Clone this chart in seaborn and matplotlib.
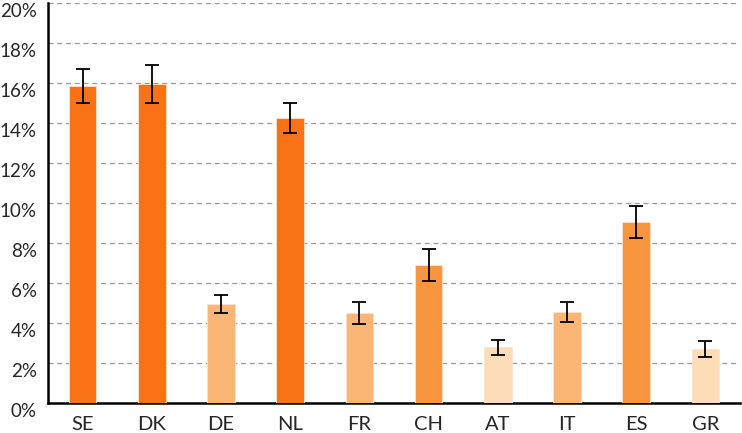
import pandas as pd
import matplotlib.pyplot as plt
import matplotlib.ticker as mticker
import matplotlib.transforms as mtransforms
import seaborn as sns

# Datos (porcentaje y semiancho del intervalo)
paises = ['SE', 'DK', 'DE', 'NL', 'FR', 'CH', 'AT', 'IT', 'ES', 'GR']
valores = [15.85, 15.95, 4.95, 14.25, 4.5, 6.9, 2.78, 4.55, 9.05, 2.7]
errores = [0.83, 0.93, 0.46, 0.75, 0.54, 0.8, 0.38, 0.48, 0.8, 0.38]
grupo = ['alto', 'alto', 'bajo', 'alto', 'bajo', 'medio', 'muy_bajo', 'bajo', 'medio', 'muy_bajo']

colores = {'alto': '#F97316', 'medio': '#F8953F', 'bajo': '#FBB574', 'muy_bajo': '#FDDCB8'}

df = pd.DataFrame({'pais': paises, 'valor': valores, 'error': errores, 'grupo': grupo})

sns.set_style("white")
plt.rcParams['font.family'] = ['Lato', 'DejaVu Sans']

fig = plt.figure(figsize=(7.42, 4.33), dpi=100)
ax = fig.add_axes([48 / 742, 1 - 403 / 433, 692 / 742, 400 / 433])

sns.barplot(data=df, x='pais', y='valor', hue='grupo', palette=colores,
            dodge=False, legend=False, width=0.4, errorbar=None, saturation=1,
            edgecolor='#FDE3CC', linewidth=0.6, ax=ax, zorder=3)

# Barras de error (intervalos)
ax.errorbar(x=range(len(paises)), y=df['valor'], yerr=df['error'], fmt='none',
            ecolor='black', elinewidth=1.3, capsize=5, capthick=1.3, zorder=4)

# Eje Y
ax.set_ylim(0, 20)
ax.set_yticks(range(0, 21, 2))
ax.yaxis.set_major_formatter(mticker.FuncFormatter(lambda v, p: f'{int(v)}%'))
ax.tick_params(axis='y', length=0, labelsize=13.5, pad=8)
# las etiquetas del eje Y quedan un poco por debajo de cada linea
desplazar = mtransforms.ScaledTranslation(0, -7 / 100, fig.dpi_scale_trans)
for lab in ax.get_yticklabels():
    lab.set_transform(lab.get_transform() + desplazar)
for y in range(2, 21, 2):
    ax.axhline(y, color='#999999', linestyle=(0, (4, 3)), linewidth=0.9, zorder=1)

# Eje X: marcas entre categorias
ax.set_xlim(-0.5, len(paises) - 0.5)
ax.tick_params(axis='x', which='major', length=0, labelsize=14.5, pad=9)
ax.set_xticks([i + 0.5 for i in range(len(paises))], minor=True)
ax.tick_params(axis='x', which='minor', direction='in', length=7, width=1.5, color='black')
ax.set_xlabel('')
ax.set_ylabel('')

sns.despine(ax=ax, top=True, right=True)
for s in ['left', 'bottom']:
    ax.spines[s].set_color('black')
    ax.spines[s].set_linewidth(1.8)

fig.savefig('out.png', dpi=100)
